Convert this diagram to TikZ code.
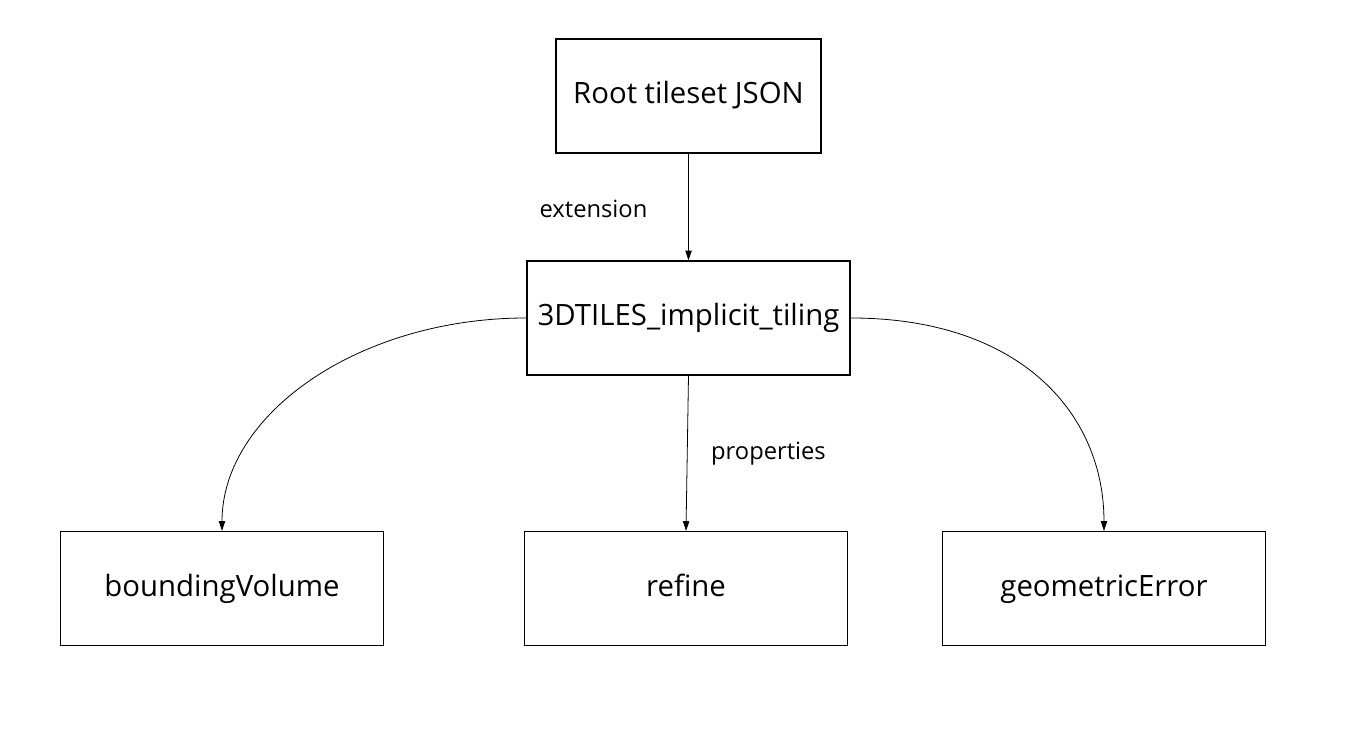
\documentclass[tikz,border=0pt]{standalone}
\usepackage{fontspec}
\setmainfont{Open Sans}
\usetikzlibrary{positioning, arrows.meta}
\tikzset{
  box/.style={draw, line width=0.7pt, minimum width=6.46cm, minimum height=2.28cm,
    font=\fontsize{16.7}{20}\selectfont, inner sep=0pt,
    execute at begin node=\vphantom{bg}},
  link/.style={line width=0.45pt, -{Triangle[length=5.5pt, width=3.6pt]}},
  tag/.style={font=\fontsize{13.5}{16}\selectfont}
}
\begin{document}
\begin{tikzpicture}
\useasboundingbox (0,0) rectangle (27.18,14.7);

% --- Top: root and extension ---
\node[box, minimum width=5.3cm] (root) at (13.77,12.78) {Root tileset JSON};
\node[box] (tiling) at (13.77,8.34) {3DTILES\_implicit\_tiling};
\node[tag] (ext) at (11.87,10.52) {extension};

% --- Bottom: properties ---
\node[box] (bv) at (4.44,2.93) {boundingVolume};
\node[box] (refine) at (13.72,2.93) {refine};
\node[box] (geo) at (22.08,2.93) {geometricError};
\node[tag] (props) at (15.37,5.63) {properties};

% Connectors
\draw[link] (root.south) -- (tiling.north);
\draw[link] (tiling.south) -- (refine.north);
\draw[link] (tiling.west) .. controls (7.18,8.34) and (4.44,6.42) .. (bv.north);
\draw[link] (tiling.east) .. controls (20.42,8.34) and (22.08,6.42) .. (geo.north);
\end{tikzpicture}
\end{document}
